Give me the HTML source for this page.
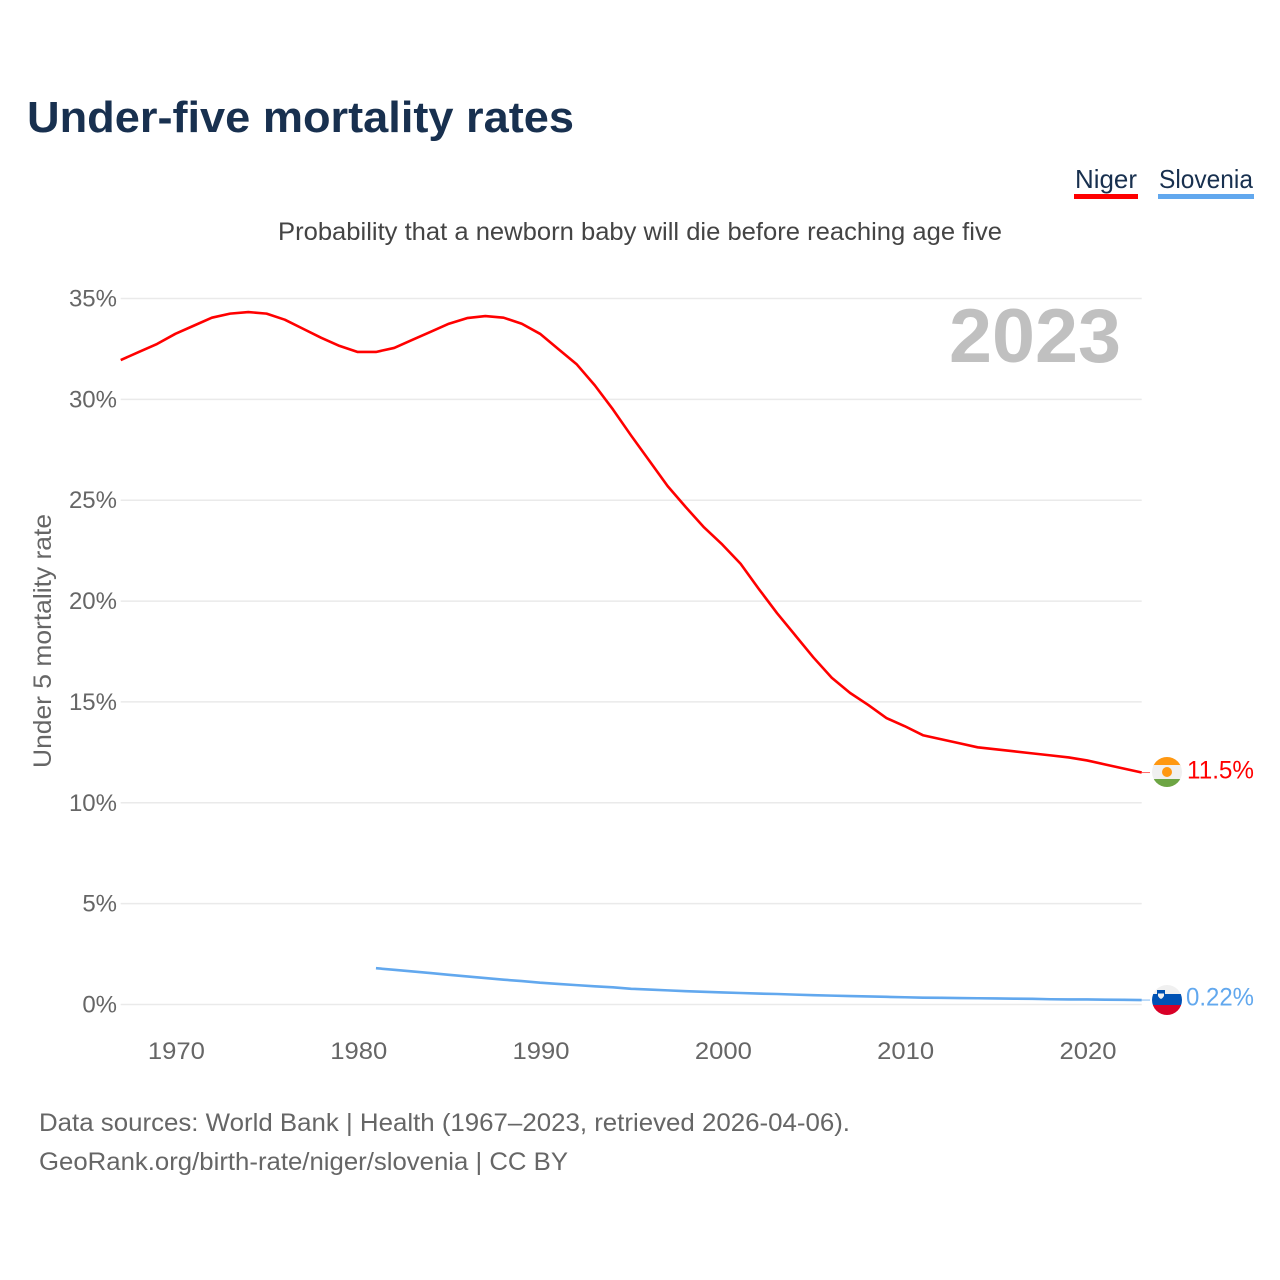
<!DOCTYPE html>
<html lang="en">
<head>
<meta charset="utf-8">
<title>Under-five mortality rates</title>
<style>
html,body{margin:0;padding:0;background:#fff}
svg{display:block}
text{font-family:"Liberation Sans",sans-serif}
</style>
</head>
<body>
<svg id="chart" xmlns="http://www.w3.org/2000/svg" width="1280" height="1280" viewBox="0 0 1280 1280">
  <text x="27" y="132" font-size="44" font-weight="700" fill="#18304f" textLength="547" lengthAdjust="spacingAndGlyphs">Under-five mortality rates</text>

  <g>
    <g>
      <text x="1075" y="188" font-size="26" fill="#18304f" textLength="62" lengthAdjust="spacingAndGlyphs">Niger</text>
      <rect x="1074" y="194" width="64" height="5" fill="#ff0000"/>
    </g>
    <g>
      <text x="1159" y="188" font-size="26" fill="#18304f" textLength="94" lengthAdjust="spacingAndGlyphs">Slovenia</text>
      <rect x="1158" y="194" width="96" height="5" fill="#62a8ee"/>
    </g>
  </g>

  <text x="278" y="240" font-size="25" fill="#444444" textLength="724" lengthAdjust="spacingAndGlyphs">Probability that a newborn baby will die before reaching age five</text>

  <g id="grid"></g>
  <g id="yticks"></g>
  <g id="xticks"></g>

  <text transform="translate(51,641) rotate(-90)" text-anchor="middle" font-size="25" fill="#666666" textLength="254" lengthAdjust="spacingAndGlyphs">Under 5 mortality rate</text>

  <text x="949" y="362" font-size="76" font-weight="700" fill="#c0c0c0" textLength="172" lengthAdjust="spacingAndGlyphs">2023</text>

  <g id="series"></g>

  <defs>
    <clipPath id="clip-niger"><circle cx="1167" cy="772" r="15"/></clipPath>
    <clipPath id="clip-slovenia"><circle cx="1167" cy="1000" r="15"/></clipPath>
  </defs>

  <g clip-path="url(#clip-niger)">
    <rect x="1150" y="755" width="34" height="11" fill="#ff9811"/>
    <rect x="1150" y="765" width="34" height="14" fill="#f0f0f0"/>
    <rect x="1150" y="779" width="34" height="10" fill="#6da544"/>
    <circle cx="1167" cy="772" r="5" fill="#ff9811"/>
  </g>
  <g clip-path="url(#clip-slovenia)">
    <rect x="1150" y="983" width="34" height="12" fill="#f0f0f0"/>
    <rect x="1150" y="994" width="34" height="11" fill="#0052b4"/>
    <rect x="1150" y="1005" width="34" height="12" fill="#d80027"/>
    <path d="M1157 990h8v6q-1 3-4 4q-3-1-4-4z" fill="#0052b4"/>
    <path d="M1158 993.500h6v2.500q-1 2-3 3q-2-1-3-3z" fill="#f0f0f0"/>
  </g>

  <text x="1187" y="778.500" font-size="25" fill="#ff0000" textLength="67" lengthAdjust="spacingAndGlyphs">11.5%</text>
  <text x="1186" y="1005.500" font-size="25" fill="#62a8ee" textLength="68" lengthAdjust="spacingAndGlyphs">0.22%</text>

  <text x="39" y="1131" font-size="25" fill="#666666" textLength="811" lengthAdjust="spacingAndGlyphs">Data sources: World Bank | Health (1967–2023, retrieved 2026-04-06).</text>
  <text x="39" y="1170" font-size="25" fill="#666666" textLength="529" lengthAdjust="spacingAndGlyphs">GeoRank.org/birth-rate/niger/slovenia | CC BY</text>
</svg>

<script>
const yTickValues = [0, 5, 10, 15, 20, 25, 30, 35];
const yTickLabels = ["0%", "5%", "10%", "15%", "20%", "25%", "30%", "35%"];
const xTickValues = [1970, 1980, 1990, 2000, 2010, 2020];
const xTickLabels = ["1970", "1980", "1990", "2000", "2010", "2020"];

const nigerYears = [1967,1968,1969,1970,1971,1972,1973,1974,1975,1976,1977,1978,1979,1980,1981,1982,1983,1984,1985,1986,1987,1988,1989,1990,1991,1992,1993,1994,1995,1996,1997,1998,1999,2000,2001,2002,2003,2004,2005,2006,2007,2008,2009,2010,2011,2012,2013,2014,2015,2016,2017,2018,2019,2020,2021,2022,2023];
const nigerValues = [31.95,32.35,32.75,33.25,33.65,34.05,34.25,34.33,34.25,33.95,33.5,33.05,32.65,32.35,32.35,32.55,32.95,33.35,33.75,34.03,34.13,34.05,33.75,33.25,32.5,31.75,30.7,29.5,28.2,26.95,25.7,24.65,23.65,22.8,21.85,20.6,19.4,18.3,17.2,16.2,15.45,14.85,14.2,13.8,13.35,13.15,12.95,12.75,12.65,12.55,12.45,12.35,12.25,12.1,11.9,11.7,11.5];

const sloveniaYears = [1981,1982,1983,1984,1985,1986,1987,1988,1989,1990,1991,1992,1993,1994,1995,1996,1997,1998,1999,2000,2001,2002,2003,2004,2005,2006,2007,2008,2009,2010,2011,2012,2013,2014,2015,2016,2017,2018,2019,2020,2021,2022,2023];
const sloveniaValues = [1.8,1.72,1.64,1.56,1.47,1.39,1.31,1.23,1.16,1.08,1.02,0.96,0.9,0.85,0.78,0.74,0.7,0.66,0.63,0.6,0.57,0.54,0.52,0.49,0.46,0.44,0.42,0.4,0.38,0.36,0.34,0.33,0.32,0.31,0.3,0.29,0.28,0.26,0.25,0.25,0.24,0.23,0.22];

const svgNS = "http://www.w3.org/2000/svg";
function xScale(year) { return 175.4 + (year - 1970) * 18.232; }
function yScale(pct) { return 1004.5 - pct * 20.171; }
function linePath(years, values) {
  return years.map(function (yr, i) {
    return (i ? "L" : "M") + xScale(yr).toFixed(2) + " " + yScale(values[i]).toFixed(2);
  }).join(" ");
}

const grid = document.getElementById("grid");
const yticks = document.getElementById("yticks");
const xticks = document.getElementById("xticks");
const series = document.getElementById("series");

yTickValues.forEach(function (v, i) {
  const ln = document.createElementNS(svgNS, "line");
  ln.setAttribute("x1", xScale(1967));
  ln.setAttribute("x2", xScale(2023));
  ln.setAttribute("y1", yScale(v));
  ln.setAttribute("y2", yScale(v));
  ln.setAttribute("stroke", "#eaeaea");
  ln.setAttribute("stroke-width", "1.5");
  
  
  grid.appendChild(ln);

  const t = document.createElementNS(svgNS, "text");
  t.textContent = yTickLabels[i];
  t.setAttribute("x", 117);
  t.setAttribute("y", yScale(v) + 8);
  t.setAttribute("text-anchor", "end");
  t.setAttribute("font-size", "24");
  t.setAttribute("fill", "#666666");
  
  
  yticks.appendChild(t);
});

xTickValues.forEach(function (v, i) {
  const t = document.createElementNS(svgNS, "text");
  t.textContent = xTickLabels[i];
  t.setAttribute("x", xScale(v) + 1);
  t.setAttribute("y", 1059);
  t.setAttribute("text-anchor", "middle");
  t.setAttribute("font-size", "24");
  t.setAttribute("fill", "#666666");
  t.setAttribute("textLength", "57");
  t.setAttribute("lengthAdjust", "spacingAndGlyphs");
  
  
  xticks.appendChild(t);
});

const nigerLine = document.createElementNS(svgNS, "path");
nigerLine.setAttribute("d", linePath(nigerYears, nigerValues));
nigerLine.setAttribute("fill", "none");
nigerLine.setAttribute("stroke", "#ff0000");
nigerLine.setAttribute("stroke-width", "2.6");
nigerLine.setAttribute("stroke-linejoin", "round");


series.appendChild(nigerLine);

const sloveniaLine = document.createElementNS(svgNS, "path");
sloveniaLine.setAttribute("d", linePath(sloveniaYears, sloveniaValues));
sloveniaLine.setAttribute("fill", "none");
sloveniaLine.setAttribute("stroke", "#62a8ee");
sloveniaLine.setAttribute("stroke-width", "2.6");
sloveniaLine.setAttribute("stroke-linejoin", "round");


series.appendChild(sloveniaLine);

const nigerLeader = document.createElementNS(svgNS, "line");
nigerLeader.setAttribute("x1", xScale(2023));
nigerLeader.setAttribute("x2", 1150);
nigerLeader.setAttribute("y1", yScale(nigerValues[nigerValues.length - 1]));
nigerLeader.setAttribute("y2", yScale(nigerValues[nigerValues.length - 1]));
nigerLeader.setAttribute("stroke", "#ff0000");
nigerLeader.setAttribute("stroke-opacity", "0.6");
nigerLeader.setAttribute("stroke-width", "1");


series.appendChild(nigerLeader);

const sloveniaLeader = document.createElementNS(svgNS, "line");
sloveniaLeader.setAttribute("x1", xScale(2023));
sloveniaLeader.setAttribute("x2", 1150);
sloveniaLeader.setAttribute("y1", yScale(sloveniaValues[sloveniaValues.length - 1]));
sloveniaLeader.setAttribute("y2", yScale(sloveniaValues[sloveniaValues.length - 1]));
sloveniaLeader.setAttribute("stroke", "#62a8ee");
sloveniaLeader.setAttribute("stroke-opacity", "0.8");
sloveniaLeader.setAttribute("stroke-width", "1");


series.appendChild(sloveniaLeader);
</script>
</body>
</html>
